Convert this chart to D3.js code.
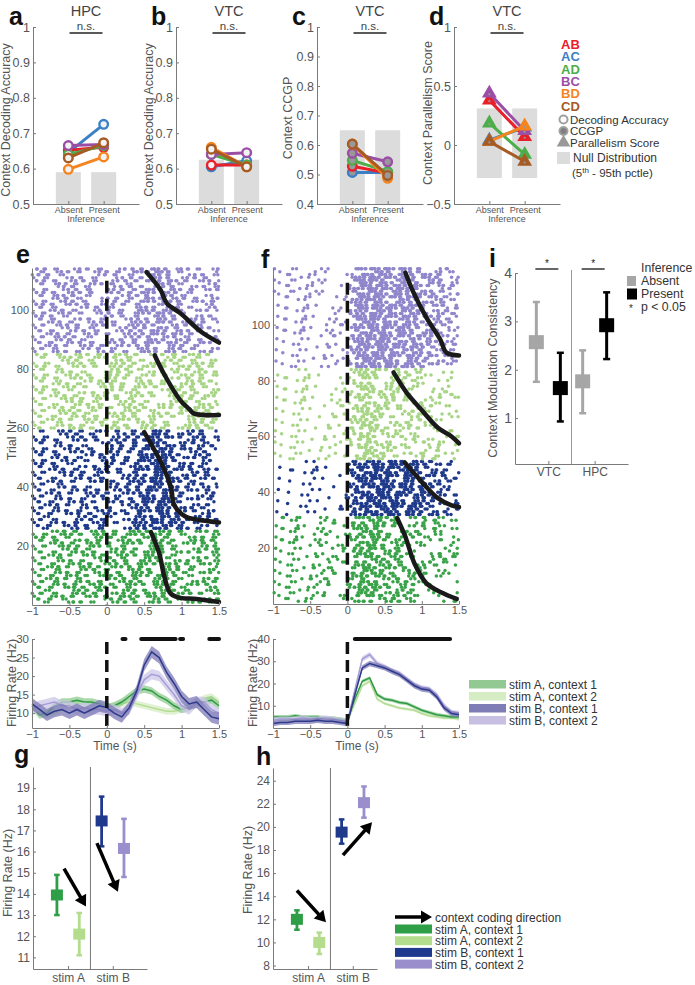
<!DOCTYPE html>
<html><head><meta charset="utf-8">
<script src="https://cdn.jsdelivr.net/npm/d3@7"></script>
<style>body{margin:0;background:#fff} svg{display:block}</style>
</head><body><svg id="fig" width="695" height="985"></svg>
<script>
// ================= DATA =================
const pairs = ["AB","AC","AD","BC","BD","CD"];
const pairColors = ["#e8202a","#3b80c4","#4bae4a","#9b4ea6","#f5841f","#a65a24"];
const inferenceConds = ["Absent","Present"];
// values per pair: [Absent, Present]
const hpcDecoding = [[0.652,0.660],[0.645,0.725],[0.640,0.665],[0.665,0.668],[0.598,0.633],[0.630,0.673]];
const vtcDecoding = [[0.610,0.610],[0.605,0.622],[0.640,0.610],[0.640,0.645],[0.660,0.605],[0.655,0.605]];
const vtcCCGP     = [[0.528,0.505],[0.507,0.507],[0.548,0.510],[0.572,0.543],[0.603,0.487],[0.603,0.497]];
const vtcParallel = [[0.380,0.070],[0.040,0.150],[0.185,-0.080],[0.438,0.120],[0.030,0.160],[0.030,-0.140]];
// null distribution (5th-95th pct) per condition [lo, hi]
const nullHpcDec = [[0.5,0.59],[0.5,0.59]];
const nullVtcDec = [[0.5,0.625],[0.5,0.625]];
const nullVtcCCGP = [[0.4,0.65],[0.4,0.65]];
const nullVtcPar = [[-0.28,0.31],[-0.28,0.31]];
const ticksDec = [0.5,0.6,0.7,0.8,0.9,1];
const ticksCCGP = [0.4,0.5,0.6,0.7,0.8,0.9,1];
const ticksPar = [-0.5,0,0.5,1];

// firing-rate time grid (s)
const frTimes = [-1,-0.9,-0.8,-0.7,-0.6,-0.5,-0.4,-0.3,-0.2,-0.1,0,0.1,0.2,0.3,0.4,0.5,0.6,0.7,0.8,0.9,1.0,1.1,1.2,1.3,1.4,1.5];
const condNames = ["stim A, context 1","stim A, context 2","stim B, context 1","stim B, context 2"];
// panel e (HPC neuron) mean firing rates
const frE_A1 = [12,9.5,10,12,13,13,13.5,13,13,12.5,11.5,12,13,14.5,16,16.5,16,14.5,13.5,12,11,11.5,12.5,13,13.5,12];
const frE_A2 = [11,10.5,9.5,10,11,12.5,12,11.5,11,11.5,11.5,12,12.5,13,12.5,12,11.5,11,10.5,10.5,11,12,13,14,14.5,13];
const frE_B1 = [12.5,11,9.5,10.5,11,10,11,10,11,12,11.5,10,9,11.5,16,23,26.5,25,21,18,14.5,12.5,13,11,9,8.5];
const frE_B2 = [11,12,12.5,13,12,12,11,11.5,11,11,10.5,11,10,11,15,19,20.5,20,17.5,15,12,11,13,13,11,10];
const semE = [1.0,0.9,1.6,1.4];
// panel f (VTC neuron) mean firing rates
const frF_A1 = [5,5,5,5.5,5,5,5,4.5,4.5,4,3.5,13,21,22.5,15,13,12.5,11.5,11,9.5,8,7,6,5.5,5,5];
const frF_A2 = [4,4,3.5,4,4,3.5,3.5,3.5,3,3,3,11,19,21,13,11,10,9,8.5,8,6.5,5.5,5,4.5,4.5,4];
const frF_B1 = [2,2.5,2.5,3,3,3,3.5,3,3,2.5,2,15,27,29,28,27,25.5,24,21.5,19,17.5,17,14,9,6.5,6];
const frF_B2 = [3.5,4,4,4,4.5,4,4,4.5,4,3.5,3,17,31,33,29,27.5,25.5,24.5,22,19.5,18,17.5,15,10,7,6.5];
const semF = [0.8,0.7,1.2,1.2];
// significance periods [start, end] (s)
const sigE = [[0.21,0.25],[0.46,0.92],[0.98,1.02],[1.37,1.5]];
const sigF = [[0.1,1.38]];
// raster trial blocks [firstTrial, lastTrial] (order: A1, B1, A2, B2 from bottom)
const blocksE = [[1,25],[26,59],[60,85],[86,114]];
const blocksF = [[1,31],[32,51],[52,84],[85,120]];
const blockCond = [0,2,1,3];
// reaction-time curves [time (s), trial]
const rtE = [
  [[0.59,24.7],[0.70,17.6],[0.77,9.5],[0.85,4],[0.95,2.6],[1.2,2],[1.5,1]],
  [[0.50,58.6],[0.66,51.5],[0.75,47],[0.86,39.7],[0.90,34],[1.05,30],[1.2,29],[1.5,28]],
  [[0.64,84.7],[0.76,78.6],[0.98,69.5],[1.10,66.5],[1.16,65],[1.5,64.4]],
  [[0.53,112.9],[0.72,106.8],[0.80,102.4],[0.98,99],[1.27,92.5],[1.5,89]]
];
const rtF = [
  [[0.67,30.7],[0.78,24],[0.90,14.6],[1.06,7.5],[1.28,3.9],[1.47,1.8]],
  [[0.77,50.7],[0.99,44],[1.21,38],[1.40,35.3],[1.5,34.7]],
  [[0.62,82.9],[0.80,75.5],[0.98,70],[1.22,63],[1.40,60],[1.5,57.5]],
  [[0.78,118.6],[0.88,112],[1.06,102.6],[1.25,94.6],[1.33,90],[1.5,89]]
];
// panel i
const iRegions = ["VTC","HPC"];
const iAbsent = [2.57,1.76], iAbsentLo = [1.75,1.10], iAbsentHi = [3.40,2.40];
const iPresent = [1.62,2.92], iPresentLo = [0.93,2.22], iPresentHi = [2.35,3.60];
// panels g, h (positions 1..4 = A1, A2, B1, B2)
const ghPos = [1,2,3,4];
const gMean = [13.95,12.1,17.45,16.15], gLo = [13.0,11.1,16.25,14.8], gHi = [14.9,13.1,18.6,17.55];
const hMean = [12.0,10.0,19.55,22.1], hLo = [11.1,9.0,18.55,20.8], hHi = [12.78,10.85,20.65,23.5];
const gArrows = [[1.32,15.2,2.30,13.4],[2.79,16.4,3.73,14.1]];
const hArrows = [[1.00,14.5,2.30,11.75],[3.06,17.55,4.36,20.4]];
const ghTickLabels = ["stim A","stim B"];

// ================= STYLE =================
const FONT = "Liberation Sans, Arial, Helvetica, sans-serif";
const AX = "#7a7a7a", TXT = "#555";
const rasterCol = ["#3aa34a","#a7d585","#1f3a8a","#8f86cb"];
const lineCol = ["#2f9a45","#b4dd93","#2e3a8c","#a49cd6"];
const bandCol = ["#8fcb8f","#d7eec5","#7d79b6","#cdc7ea"];
const legCol = ["#92c992","#d6ecc4","#7f7db6","#c7c0e3"];
const ghCol = ["#2e9e47","#b3dc8c","#1f3a8c","#9a8fcc"];

const svg = d3.select("#fig");

function txt(g,x,y,s,o={}){
  const t = g.append("text").attr("x",x).attr("y",y).text(s)
    .attr("font-family",FONT).attr("font-size",o.fs||12)
    .attr("fill",o.fill||"#333").attr("text-anchor",o.anchor||"start")
    .attr("font-weight",o.weight||"normal");
  if(o.rot) t.attr("transform",`rotate(${o.rot},${x},${y})`);
  return t;
}
function styleAxis(s,fs){
  s.select(".domain").attr("stroke",AX);
  s.selectAll(".tick line").attr("stroke",AX);
  s.selectAll(".tick text").attr("fill",TXT).attr("font-size",fs).attr("font-family",FONT);
}
function yAxis(g,scale,x0,ticks,fmt,fs){
  g.append("g").attr("transform",`translate(${x0},0)`)
   .call(d3.axisLeft(scale).tickValues(ticks).tickFormat(fmt).tickSizeInner(-3).tickSizeOuter(0).tickPadding(3))
   .call(s=>styleAxis(s,fs));
}
function xAxis(g,scale,y0,ticks,fmt,fs,pad){
  g.append("g").attr("transform",`translate(0,${y0})`)
   .call(d3.axisBottom(scale).tickValues(ticks).tickFormat(fmt).tickSizeInner(-3).tickSizeOuter(0).tickPadding(pad))
   .call(s=>styleAxis(s,fs));
}
function panelLabel(x,y,s){ txt(svg,x,y,s,{fs:25,weight:"bold",fill:"#111"}); }

// ================= TOP PANELS a-d =================
const decFmt = d => d===1 ? "1" : d3.format(".1f")(d);
function topPanel(o){
  const g = svg.append("g");
  const x = d3.scaleLinear().domain([0,3]).range([o.x0,o.x0+106]);
  const y = d3.scaleLinear().domain(o.yDom).range([204,27]);
  o.nulls.forEach((nb,i)=>{
    g.append("rect").attr("x",x(i+1)-12.5).attr("width",25)
     .attr("y",y(nb[1])).attr("height",y(nb[0])-y(nb[1])).attr("fill","#dcdcdc");
  });
  yAxis(g,y,o.x0,o.ticks,o.fmt,12.5);
  xAxis(g,x,204,[1,2],(d,i)=>inferenceConds[i],9,3);
  txt(g,x(1.5),222,"Inference",{fs:9,anchor:"middle",fill:TXT});
  txt(g,x(1.5),16,o.title,{fs:14.5,anchor:"middle",fill:"#444"});
  txt(g,x(1.5),30,"n.s.",{fs:11.5,anchor:"middle",fill:"#444"});
  g.append("line").attr("x1",x(1.5)-16.5).attr("x2",x(1.5)+16.5).attr("y1",33).attr("y2",33).attr("stroke","#222").attr("stroke-width",1.3);
  txt(g,o.ylx,o.yly,o.ylabel,{fs:12.5,anchor:"middle",fill:"#555",rot:-90});
  const order = [1,0,2,3,4,5];
  order.forEach(pi=>{
    const v = o.values[pi], c = pairColors[pi];
    g.append("line").attr("x1",x(1)).attr("x2",x(2)).attr("y1",y(v[0])).attr("y2",y(v[1]))
     .attr("stroke",c).attr("stroke-width",3);
    v.forEach((vv,k)=>{
      const cx=x(k+1), cy=y(vv);
      if(o.marker==="tri"){
        g.append("path").attr("d",d3.symbol(d3.symbolTriangle,95)()).attr("transform",`translate(${cx},${cy})`).attr("fill",c);
        g.append("circle").attr("cx",cx).attr("cy",cy+1).attr("r",1.1).attr("fill","#999");
      } else {
        g.append("circle").attr("cx",cx).attr("cy",cy).attr("r",4.3)
         .attr("fill",o.marker==="ccgp"?"#999":"#f2f2f2").attr("stroke",c).attr("stroke-width",2.4);
      }
    });
  });
}
topPanel({x0:33,yDom:[0.5,1],ticks:ticksDec,fmt:decFmt,nulls:nullHpcDec,values:hpcDecoding,title:"HPC",ylabel:"Context Decoding Accuracy",ylx:10,yly:120,marker:"circ"});
topPanel({x0:176,yDom:[0.5,1],ticks:ticksDec,fmt:decFmt,nulls:nullVtcDec,values:vtcDecoding,title:"VTC",ylabel:"Context Decoding Accuracy",ylx:153,yly:120,marker:"circ"});
topPanel({x0:317,yDom:[0.4,1],ticks:ticksCCGP,fmt:decFmt,nulls:nullVtcCCGP,values:vtcCCGP,title:"VTC",ylabel:"Context CCGP",ylx:292,yly:118,marker:"ccgp"});
topPanel({x0:454,yDom:[-0.5,1],ticks:ticksPar,fmt:d=>d3.format("")(d),nulls:nullVtcPar,values:vtcParallel,title:"VTC",ylabel:"Context Parallelism Score",ylx:432,yly:113,marker:"tri"});
panelLabel(9,25,"a"); panelLabel(151,25,"b"); panelLabel(292,25,"c"); panelLabel(429,25,"d");

// legend for a-d
pairs.forEach((p,i)=>txt(svg,561,49+i*12.3,p,{fs:13,weight:"bold",fill:pairColors[i]}));
svg.append("circle").attr("cx",563.5).attr("cy",119.5).attr("r",4).attr("fill","#fff").attr("stroke","#a0a0a0").attr("stroke-width",2);
txt(svg,570,123.5,"Decoding Accuracy",{fs:11.5,fill:"#333"});
svg.append("circle").attr("cx",563.5).attr("cy",131).attr("r",4).attr("fill","#808080").attr("stroke","#a0a0a0").attr("stroke-width",2);
txt(svg,570,135,"CCGP",{fs:11.5,fill:"#333"});
svg.append("path").attr("d",d3.symbol(d3.symbolTriangle,80)()).attr("transform","translate(563.5,142.5)").attr("fill","#999");
txt(svg,570,146.5,"Parallelism Score",{fs:11.5,fill:"#333"});
svg.append("rect").attr("x",557).attr("y",152).attr("width",13).attr("height",12).attr("fill","#dcdcdc");
txt(svg,573,161.5,"Null Distribution",{fs:12,fill:"#333"});
const pt = txt(svg,572,177,"(5",{fs:11.5,fill:"#333"});
pt.append("tspan").attr("dy",-4).attr("font-size",8).text("th");
pt.append("tspan").attr("dy",4).text(" - 95th pctle)");

// ================= RASTERS e, f =================
function interpRate(arr,t){
  if(t<=frTimes[0]) return arr[0];
  const i = Math.min(frTimes.length-2, Math.floor((t-frTimes[0])/0.1+1e-9));
  const f = (t-frTimes[i])/(frTimes[i+1]-frTimes[i]);
  return arr[i]*(1-f)+arr[i+1]*f;
}
// integrate-and-fire conversion of the rate profile into spike ticks (low-discrepancy thresholds)
function trialSpikes(rate,trial,salt){
  const out=[]; const dt=0.004; let acc=0,k=0;
  const u = kk => ((trial*0.7548776662 + kk*0.5698402910 + salt)%1);
  let thr = Math.max(0.08,-Math.log(1-u(0)));
  for(let t=-1;t<=1.5;t+=dt){
    acc += interpRate(rate,t)*dt;
    while(acc>=thr){ out.push(t); acc-=thr; k++; thr=Math.max(0.08,-Math.log(1-u(k))); }
  }
  return out;
}
function rasterPanel(o){
  const g = svg.append("g");
  const x = d3.scaleLinear().domain([-1,1.5]).range([o.x0,o.x1]);
  const y = d3.scaleLinear().domain([0,o.ymax]).range([o.yb,268]);
  o.blocks.forEach((b,bi)=>{
    const ci = blockCond[bi];
    for(let tr=b[0]; tr<=b[1]; tr++){
      trialSpikes(o.rates[ci],tr,0.13*bi+0.07).forEach(t=>{
        g.append("circle").attr("cx",x(t)).attr("cy",y(tr)).attr("r",1.75).attr("fill",rasterCol[ci]);
      });
    }
  });
  g.append("line").attr("x1",x(0)).attr("x2",x(0)).attr("y1",y(o.dashTop)).attr("y2",y(0))
   .attr("stroke","#111").attr("stroke-width",3.5).attr("stroke-dasharray","12,6");
  const ln = d3.line().x(d=>x(d[0])).y(d=>y(d[1])).curve(d3.curveCatmullRom);
  o.rt.forEach(c=>g.append("path").attr("d",ln(c)).attr("fill","none").attr("stroke","#1a1a1a").attr("stroke-width",4.5).attr("stroke-linecap","round").attr("stroke-linejoin","round"));
  yAxis(g,y,o.x0,[20,40,60,80,100],d3.format("d"),11);
  xAxis(g,x,o.yb,[-1,-0.5,0,0.5,1,1.5],d3.format(""),11,2);
  txt(g,o.x0-16,440,"Trial Nr",{fs:12.5,anchor:"middle",fill:"#555",rot:-90});
}
rasterPanel({x0:32,x1:219,yb:605,ymax:114.3,blocks:blocksE,rates:[frE_A1,frE_A2,frE_B1,frE_B2],rt:rtE,dashTop:110});
rasterPanel({x0:273,x1:459,yb:604,ymax:120.3,blocks:blocksF,rates:[frF_A1,frF_A2,frF_B1,frF_B2],rt:rtF,dashTop:115});
panelLabel(16,263,"e"); panelLabel(261,268,"f");

// ================= FIRING RATE (e, f bottom) =================
function frPanel(o){
  const g = svg.append("g");
  const x = d3.scaleLinear().domain([-1,1.5]).range([o.x0,o.x1]);
  const y = d3.scaleLinear().domain(o.yDom).range([728,639]);
  const order=[1,0,3,2];
  order.forEach(ci=>{
    const arr=o.rates[ci], s=o.sem[ci];
    const area=d3.area().x((d,i)=>x(frTimes[i])).y0(d=>y(d-s)).y1(d=>y(d+s));
    g.append("path").attr("d",area(arr)).attr("fill",bandCol[ci]).attr("opacity",0.75);
    const line=d3.line().x((d,i)=>x(frTimes[i])).y(d=>y(d));
    g.append("path").attr("d",line(arr)).attr("fill","none").attr("stroke",lineCol[ci]).attr("stroke-width",1.5);
  });
  g.append("line").attr("x1",x(0)).attr("x2",x(0)).attr("y1",642).attr("y2",728)
   .attr("stroke","#111").attr("stroke-width",3.5).attr("stroke-dasharray","12,6");
  o.sig.forEach(s=>g.append("line").attr("x1",x(s[0])).attr("x2",x(s[1])).attr("y1",y(o.yDom[1])).attr("y2",y(o.yDom[1]))
   .attr("stroke","#111").attr("stroke-width",4).attr("stroke-linecap","round"));
  yAxis(g,y,o.x0,o.ticks,d3.format("d"),11.5);
  xAxis(g,x,728,[-1,-0.5,0,0.5,1,1.5],d3.format(""),11,2);
  txt(g,o.x0-16,683,"Firing Rate (Hz)",{fs:12.5,anchor:"middle",fill:"#555",rot:-90});
  txt(g,o.tx,750,"Time (s)",{fs:12,anchor:"middle",fill:"#555"});
}
frPanel({x0:32,x1:219,yDom:[6,30],ticks:[10,15,20,25,30],rates:[frE_A1,frE_A2,frE_B1,frE_B2],sem:semE,sig:sigE,tx:115});
frPanel({x0:273,x1:459,yDom:[0,40],ticks:[10,20,30,40],rates:[frF_A1,frF_A2,frF_B1,frF_B2],sem:semF,sig:sigF,tx:357});
condNames.forEach((n,i)=>{
  svg.append("rect").attr("x",469).attr("y",680+i*12).attr("width",37).attr("height",8.5).attr("fill",legCol[i]);
  txt(svg,509,688.5+i*12,n,{fs:12,fill:"#333"});
});

// ================= PANEL i =================
(function(){
  const g = svg.append("g");
  const x = d3.scalePoint().domain(iRegions).range([515,628]).padding(0.72);
  const y = d3.scaleLinear().domain([0.05,4]).range([464,273]);
  g.append("line").attr("x1",(x("VTC")+x("HPC"))/2).attr("x2",(x("VTC")+x("HPC"))/2).attr("y1",270).attr("y2",464).attr("stroke","#999").attr("stroke-width",1);
  function marker(cx,m,lo,hi,col){
    g.append("line").attr("x1",cx).attr("x2",cx).attr("y1",y(lo)).attr("y2",y(hi)).attr("stroke",col).attr("stroke-width",3);
    [lo,hi].forEach(v=>g.append("line").attr("x1",cx-3.5).attr("x2",cx+3.5).attr("y1",y(v)).attr("y2",y(v)).attr("stroke",col).attr("stroke-width",2.5));
    g.append("rect").attr("x",cx-7.5).attr("y",y(m)-7).attr("width",15).attr("height",14).attr("fill",col);
  }
  iRegions.forEach((r,i)=>{
    marker(x(r)-12,iAbsent[i],iAbsentLo[i],iAbsentHi[i],"#a6a6a6");
    marker(x(r)+12,iPresent[i],iPresentLo[i],iPresentHi[i],"#000");
    g.append("line").attr("x1",x(r)-13).attr("x2",x(r)+10).attr("y1",269).attr("y2",269).attr("stroke","#555").attr("stroke-width",1.8);
    txt(g,x(r)-1.5,267,"*",{fs:10,anchor:"middle",fill:"#222"});
  });
  yAxis(g,y,515,[1,2,3,4],d3.format("d"),14);
  xAxis(g,x,464,iRegions,d=>d,12,3);
  txt(g,497,368,"Context Modulation Consistency",{fs:12.5,anchor:"middle",fill:"#555",rot:-90});
  txt(g,641,272,"Inference",{fs:12.3,fill:"#333"});
  g.append("rect").attr("x",627).attr("y",276).attr("width",9).attr("height",10).attr("fill","#a6a6a6");
  txt(g,641,285,"Absent",{fs:12.3,fill:"#333"});
  g.append("rect").attr("x",627).attr("y",288.5).attr("width",10).attr("height",11).attr("fill","#000");
  txt(g,641,298,"Present",{fs:12.3,fill:"#333"});
  txt(g,631,312,"*",{fs:10,anchor:"middle",fill:"#333"});
  txt(g,641,310.5,"p < 0.05",{fs:12.3,fill:"#333"});
})();
panelLabel(489,267,"i");

// ================= PANELS g, h =================
function arrow(g,x1,y1,x2,y2,w,hl,hw){
  const ang=Math.atan2(y2-y1,x2-x1), c=Math.cos(ang), s=Math.sin(ang);
  const bx=x2-hl*c, by=y2-hl*s;
  g.append("line").attr("x1",x1).attr("y1",y1).attr("x2",bx+1*c).attr("y2",by+1*s).attr("stroke","#000").attr("stroke-width",w);
  g.append("path").attr("d",`M${x2},${y2}L${bx-hw*s},${by+hw*c}L${bx+hw*s},${by-hw*c}Z`).attr("fill","#000");
}
function ghPanel(o){
  const g = svg.append("g");
  const x = d3.scaleLinear().domain([-0.07,o.xmax]).range([o.x0,o.x0+(o.xmax+0.07)*22.35]);
  const y = d3.scaleLinear().domain(o.yDom).range([o.yb,o.yt]);
  g.append("line").attr("x1",x(2.5)).attr("x2",x(2.5)).attr("y1",o.yt).attr("y2",o.yb).attr("stroke","#777").attr("stroke-width",1);
  ghPos.forEach((p,i)=>{
    const cx=x(p), col=ghCol[i];
    g.append("line").attr("x1",cx).attr("x2",cx).attr("y1",y(o.lo[i])).attr("y2",y(o.hi[i])).attr("stroke",col).attr("stroke-width",2.8);
    [o.lo[i],o.hi[i]].forEach(v=>g.append("line").attr("x1",cx-2.8).attr("x2",cx+2.8).attr("y1",y(v)).attr("y2",y(v)).attr("stroke",col).attr("stroke-width",2.5));
    g.append("rect").attr("x",cx-6).attr("y",y(o.mean[i])-5.5).attr("width",12).attr("height",11).attr("fill",col);
  });
  o.arrows.forEach(a=>arrow(g,x(a[0]),y(a[1]),x(a[2]),y(a[3]),3.5,11,6.5));
  yAxis(g,y,o.x0,o.ticks,d3.format("d"),12);
  xAxis(g,x,o.yb,[1.5,3.5],(d,i)=>ghTickLabels[i],12,4);
  txt(g,o.x0-21,o.yl,"Firing Rate (Hz)",{fs:12.5,anchor:"middle",fill:"#555",rot:-90});
}
ghPanel({x0:33,xmax:5.03,yDom:[10.45,20],yt:767,yb:969,ticks:[11,12,13,14,15,16,17,18,19],mean:gMean,lo:gLo,hi:gHi,arrows:gArrows,yl:873});
ghPanel({x0:273,xmax:4.58,yDom:[7.7,25.1],yt:768,yb:969,ticks:[8,10,12,14,16,18,20,22,24],mean:hMean,lo:hLo,hi:hHi,arrows:hArrows,yl:870});
panelLabel(14,763,"g"); panelLabel(256,765,"h");

// legend g/h
arrow(svg,395,917,432,917,3.5,11,6.5);
txt(svg,435,921.5,"context coding direction",{fs:12,fill:"#333"});
condNames.forEach((n,i)=>{
  svg.append("rect").attr("x",395).attr("y",924.5+i*11.7).attr("width",37).attr("height",9).attr("fill",ghCol[i]);
  txt(svg,435,933.5+i*11.7,n,{fs:12,fill:"#333"});
});
</script></body></html>
